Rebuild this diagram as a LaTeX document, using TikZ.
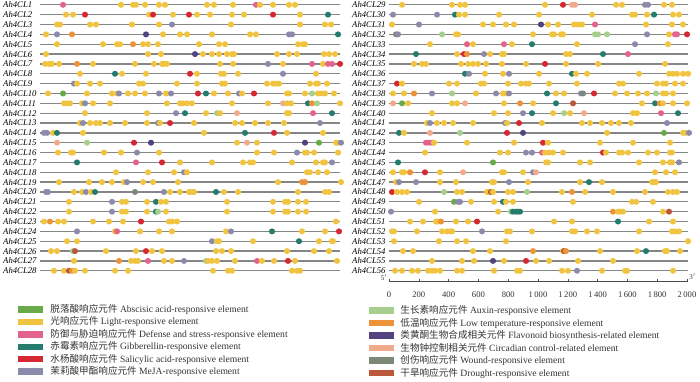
\documentclass[tikz,border=0pt]{standalone}
\usepackage{fontspec}
\setmainfont{Liberation Serif}
\newfontfamily\cjk{Noto Sans CJK SC}
\usetikzlibrary{positioning}

% element colours
\definecolor{el-g}{RGB}{104,170,72}
\definecolor{el-y}{RGB}{240,196,64}
\definecolor{el-p}{RGB}{226,100,140}
\definecolor{el-t}{RGB}{36,124,110}
\definecolor{el-r}{RGB}{214,40,50}
\definecolor{el-m}{RGB}{140,138,170}
\definecolor{el-a}{RGB}{166,206,140}
\definecolor{el-o}{RGB}{236,146,56}
\definecolor{el-f}{RGB}{82,66,126}
\definecolor{el-c}{RGB}{242,170,140}
\definecolor{el-w}{RGB}{124,136,120}
\definecolor{el-d}{RGB}{186,86,60}

\tikzset{
  gene/.style={draw=gray!95, line width=1.3pt},
  rowlab/.style={anchor=west, inner sep=0pt, font=\fontsize{8.7}{9}\selectfont\itshape},
  axisline/.style={draw=gray!60!black, line width=0.6pt},
  ticklab/.style={inner sep=0pt, font=\fontsize{8.6}{9}\selectfont, text=black!80},
  swatch/.style={minimum width=25pt, minimum height=6.5pt, inner sep=0pt},
  legtext/.style={anchor=west, inner sep=0pt, font=\fontsize{9.6}{10}\selectfont, text=black!80}
}

\begin{document}
\begin{tikzpicture}[x=1pt, y=-1pt]
	\useasboundingbox (0,0) rectangle (700,381);

	% left panel
	\foreach \r/\pts in {
		1/{63/p,121/y,133/y,136/y,145/y,159/y,165/y,207/y,214/y,233/y,256/p,260/y,273/y,289/y,295/y},
		2/{66/y,73/y,85/r,149/y,153/r,173/y,189/r,197/y,210/y,232/y,244/y,273/r,300/y,328/t},
		3/{57/y,60/y,90/y,96/y,132/y,159/y,172/m,231/y,300/y,325/y,331/y},
		4/{46/y,57/m,72/o,146/f,163/y,180/y,187/y,212/y,250/y,256/y,289/m,292/m,338/t},
		5/{57/y,103/y,117/y,120/y,133/o,143/y,148/y,158/y,199/y,219/y,225/y,298/y,303/y,305/y},
		6/{46/y,148/y,161/y,195/f,203/y,212/y,219/y,227/y,232/y,234/y,277/y,289/y,297/y,324/y,329/y,335/y},
		7/{45/y,49/y,52/y,59/y,77/o,93/y,135/y,154/y,162/y,164/y,167/y,220/y,233/y,268/m,283/y,312/p,323/y,328/p,332/p,340/r},
		8/{80/y,115/t,122/y,146/y,190/r,197/y,221/y,224/y,238/y,283/m,316/y},
		9/{74/m,77/y,90/y,100/y,139/y,143/y,177/y,197/y,222/y,225/y,267/y,273/y,276/y,279/y,310/y,316/y,318/y,327/y},
		10/{48/y,63/g,87/y,112/y,117/y,119/m,128/y,135/y,145/y,159/m,166/y,171/m,198/r,206/t,214/y,228/y,239/m,242/y,254/r,287/y,289/y,305/y,312/a,318/y,322/y,325/y,334/y},
		11/{64/y,67/y,70/y,82/y,85/m,93/y,110/y,167/y,180/y,183/y,187/y,192/y,232/y,268/y,283/c,287/y,291/y,308/t,312/o,317/a,340/y},
		12/{85/y,147/y,176/m,185/t,206/y,217/a,220/y,237/c,287/y,289/y,313/p,332/t},
		13/{80/y,83/m,90/y,96/y,100/y,110/y,125/y,147/y,158/m,160/y,170/r,194/y,235/y,242/y,255/y,268/y,284/y,320/m},
		14/{44/m,47/m,53/y,57/t,83/y,204/y,245/t,274/r,287/y,323/y},
		15/{57/c,87/a,134/r,151/f,237/y,247/c,257/y,305/f,319/g,336/y,338/y,341/m},
		16/{58/y,71/y,73/y,104/y,121/y,137/m,159/y,257/y,274/y,297/m,305/y,307/y,314/y,338/y},
		17/{77/t,136/p,162/r,180/y,212/y,243/y,250/y,253/y,292/y,316/y,323/y,325/y,332/m},
		18/{116/y,148/y,174/y,184/m,187/y,307/y,310/y,318/y,327/y},
		19/{59/y,89/y,102/y,112/y,124/y,127/m,143/y,153/y,178/y,278/y,302/o,305/o,341/y},
		20/{46/m,48/m,74/y,82/y,86/m,91/y,95/t,135/w,164/m,170/y,180/y,189/y,192/y,194/y,216/t,224/y,238/y,298/y,325/y,329/y},
		21/{69/y,112/m,122/y,126/y,147/y,156/t,161/y,166/y,227/y,273/y,285/y,288/y,298/y,306/y},
		22/{69/y,112/m,122/y,126/y,147/y,156/t,158/a,166/y,227/y,273/y,285/y,288/y,298/y,306/y},
		23/{44/y,50/o,58/y,64/y,93/y,109/y,123/y,141/r,169/y,172/y,177/y,336/y},
		24/{77/m,115/y,117/p,140/y,159/y,172/y,226/y,231/m,272/t,302/y,325/y,339/r},
		25/{67/y,77/y,212/m,217/y,219/y,253/y,299/t,319/y,332/y,333/y},
		26/{51/y,57/y,73/a,75/d,106/y,136/y,146/r,152/y,162/y,216/y,222/y,231/y,287/y,314/y,329/y},
		27/{74/y,119/o,131/y,135/y,138/y,148/p,164/y,172/y,184/m,206/a,208/y,212/y,217/y,235/y,257/p,262/y,274/y,288/r,295/y,337/y},
		28/{54/y,64/y,69/d,72/o,75/y,85/y,115/y,128/y,213/y,228/y,232/y,292/y,297/y,300/y}} {
		\pgfmathsetmacro\yy{4.8+(\r-1)*9.85}
		\node[rowlab] (lab\r) at (3,\yy) {Ah4CL\r};
		\draw[gene] (40,\yy) -- (340,\yy);
		\foreach \x/\c in \pts \fill[el-\c] (\x,\yy) ellipse [x radius=3.1pt, y radius=3pt];
	}

	% right panel
	\foreach \r/\pts in {
		29/{402/y,452/y,460/y,465/y,545/y,563/r,572/c,575/c,616/y,622/y,645/m,648/m,664/y,672/y},
		30/{393/m,437/m,455/t,459/y,465/y,499/y,539/y,592/y,632/y,635/y,647/y,654/t,673/y,679/y},
		31/{392/y,419/m,483/y,493/y,506/y,514/y,541/f,548/y,558/y,574/y,578/y,582/y,595/p,646/y,672/y,683/y},
		32/{396/w,398/m,442/a,456/y,458/y,533/y,552/y,554/y,561/y,563/y,595/a,598/a,607/a,647/m,669/y,675/p,677/p,687/r},
		33/{430/y,467/p,473/y,504/p,512/y,532/t,577/y,635/m,668/y},
		34/{416/t,457/y,464/r,467/o,484/m,490/y,502/y,504/y,566/y,570/y,603/t,628/p},
		35/{414/y,422/y,426/y,461/y,468/y,473/y,478/y,486/y,502/y,526/y,545/r,566/y,598/y,665/y},
		36/{465/t,469/m,485/y,503/y,509/m,539/y,572/t,576/y,587/y,639/y,669/y,673/y,677/y,683/y,688/y},
		37/{397/r,402/y,449/y,457/y,481/y,484/y,508/y,521/y,526/y,529/y,549/y,577/y,619/y,623/y,657/y,663/y,666/y,675/y,683/y},
		38/{393/y,404/y,414/o,432/m,452/a,476/y,496/m,503/y,506/y,509/m,547/t,556/y,564/y,581/m,583/w,594/r,615/y,627/y,638/y,647/y,656/a,663/y,666/y,673/y},
		39/{393/c,402/g,408/y,452/y,457/y,465/c,504/y,520/o,533/y,556/t,573/d,642/y,655/t,660/o,663/y,673/y,687/y},
		40/{432/y,494/y,508/y,523/m,532/t,553/y,564/a,570/y,584/c,633/y,637/y,661/p,678/t},
		41/{427/y,430/m,437/y,444/y,453/y,473/y,505/m,507/y,519/r,542/y,582/y,590/y,602/y,611/y,619/y,631/y,667/m},
		42/{399/t,404/y,430/c,460/a,507/r,523/f,607/y,664/g,683/y,686/y,689/m},
		43/{426/p,429/p,432/p,434/y,467/y,514/y,543/r,548/y,600/y,633/y,670/y},
		44/{425/y,500/y,508/y,526/m,532/m,542/p,545/y,549/y,553/y,563/y,603/r,606/y,619/y,622/y,628/y,648/y,657/y,670/y,672/y},
		45/{398/t,493/g,546/y,548/y,580/y,590/y,639/y,663/y,670/y,672/y,679/m},
		46/{393/y,402/y,404/y,410/o,425/r,440/y,463/c,502/y,504/y,523/y,533/m,536/c,655/y,666/y,675/y},
		47/{396/y,399/m,416/m,440/y,456/y,492/y,494/y,509/m,528/y,580/y,589/t,602/y,652/y,654/y,656/y},
		48/{392/r,397/y,402/y,407/y,444/a,457/y,462/y,487/y,489/y,491/d,493/y,508/y,513/y,527/a,562/y,572/o,585/y,613/y,645/y,668/y,673/y,677/y},
		49/{419/y,454/g,458/m,460/m,471/y,494/y,503/t,506/y,513/y,573/y,632/y,636/y,653/y},
		50/{391/m,435/y,498/y,511/a,513/t,516/t,518/t,520/t,613/o,618/y,620/y,623/y,663/y,669/d},
		51/{410/y,423/y,436/y,438/y,441/o,456/y,468/y,477/r,554/y,572/y,618/t,649/y,673/y},
		52/{392/y,394/y,417/y,442/y,447/y,450/y,452/y,482/m,507/y,510/y,532/y,572/y,575/y,587/y,597/y,639/y,672/y,675/y,679/y},
		53/{394/y,439/y,457/y,466/y,506/y,688/y},
		54/{403/y,413/y,473/y,490/y,533/o,563/y,564/d,566/o,600/y,637/y,646/t,665/y,667/y,680/y},
		55/{432/y,462/y,474/y,493/f,504/y,526/r,536/y,549/y,578/y,613/y},
		56/{395/y,402/y,412/y,418/y,428/y,432/y,435/y,440/y,457/y,462/y,494/y,517/y,520/y,562/y,568/y,577/m,602/y,625/y,627/y,673/y}} {
		\pgfmathsetmacro\yy{4.8+(\r-29)*9.85}
		\node[rowlab] (lab\r) at (352,\yy) {Ah4CL\r};
		\draw[gene] (389,\yy) -- (688,\yy);
		\foreach \x/\c in \pts \fill[el-\c] (\x,\yy) ellipse [x radius=3.1pt, y radius=3pt];
	}

	% position axis
	\coordinate (ax0) at (389,281.3);
	\coordinate (ax1) at (688,281.3);
	\draw[axisline] (ax0) -- (ax1);
	\foreach \k/\t in {0/0,1/200,2/400,3/600,4/800,5/1\,000,6/1\,200,7/1\,400,8/1\,600,9/1\,800,10/2\,000} {
		\draw[axisline] ({389+\k*29.8},281.3) -- ++(0,-2.2);
		\node[ticklab] (tk\k) at ({389+\k*29.8},294.6) {\t};
	}
	\node[ticklab, font=\fontsize{7}{8}\selectfont] (end5) at (384,277.5) {5$'$};
	\node[ticklab, font=\fontsize{7}{8}\selectfont] (end3) at (692.5,277) {3$'$};

	% legend
	\foreach \i/\c/\zh/\en in {
		1/g/脱落酸响应元件/Abscisic acid-responsive element,
		2/y/光响应元件/Light-responsive element,
		3/p/防御与胁迫响应元件/Defense and stress-responsive element,
		4/t/赤霉素响应元件/Gibberellin-responsive element,
		5/r/水杨酸响应元件/Salicylic acid-responsive element,
		6/m/茉莉酸甲酯响应元件/MeJA-responsive element} {
		\node[swatch, fill=el-\c] (swl\i) at (30.5,{309.4+(\i-1)*12.45}) {};
		\node[legtext, right=7pt of swl\i] (txl\i) {{\cjk\zh} \en};
	}
	\foreach \i/\c/\zh/\en in {
		1/a/生长素响应元件/Auxin-responsive element,
		2/o/低温响应元件/Low temperature-responsive element,
		3/f/类黄酮生物合成相关元件/Flavonoid biosynthesis-related element,
		4/c/生物钟控制相关元件/Circadian control-related element,
		5/w/创伤响应元件/Wound-responsive element,
		6/d/干旱响应元件/Drought-responsive element} {
		\node[swatch, fill=el-\c] (swr\i) at (381.5,{310.7+(\i-1)*12.5}) {};
		\node[legtext, right=6pt of swr\i] (txr\i) {{\cjk\zh} \en};
	}
\end{tikzpicture}
\end{document}
